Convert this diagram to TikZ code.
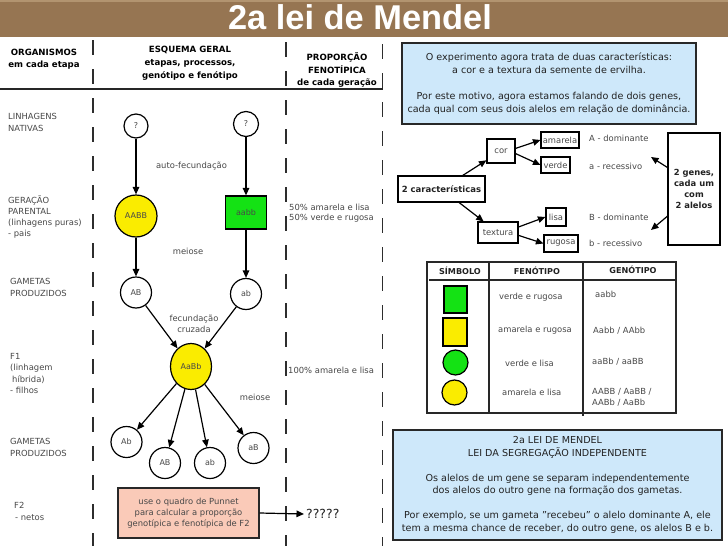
\documentclass[tikz,border=0pt]{standalone}
\usepackage{fontspec}
\setmainfont{DejaVu Sans}
\newfontfamily\titlefont{Liberation Sans}
\usetikzlibrary{arrows.meta,shapes.geometric,calc}
\definecolor{barbrown}{RGB}{150,117,82}
\definecolor{barlight}{RGB}{178,148,112}
\definecolor{txtgray}{RGB}{72,72,72}
\definecolor{txtdark}{RGB}{34,34,34}
\definecolor{linegray}{RGB}{45,45,45}
\definecolor{borderdark}{RGB}{40,40,40}
\definecolor{yel}{RGB}{250,236,0}
\definecolor{grn}{RGB}{20,226,20}
\definecolor{pinkfill}{RGB}{250,202,184}
\definecolor{boxblue}{RGB}{206,232,250}
\begin{document}
\begin{tikzpicture}[x=1pt,y=-1pt,
  txt/.style={font=\fontsize{8.4}{11.3}\selectfont, text=txtgray, inner sep=0pt},
  lbl/.style={txt, align=left, anchor=west},
  hdr/.style={font=\bfseries\fontsize{8.6}{12.8}\selectfont, align=center, inner sep=0pt, text=black},
  circ/.style={circle, draw=black, line width=1.2pt, fill=white, minimum size=31pt, inner sep=0pt, font=\fontsize{8}{9}\selectfont, text=txtgray},
  arr/.style={-{Triangle[length=7.5pt,width=6.5pt]}, line width=1.2pt, draw=black},
  dashline/.style={line width=1.8pt, draw=linegray, dash pattern=on 15pt off 14pt},
  sbox/.style={rectangle, draw=black, line width=1.1pt, fill=white, inner sep=1pt, font=\fontsize{8.4}{10.8}\selectfont, text=txtgray},
  bluebox/.style={rectangle, draw=borderdark, line width=1.3pt, fill=boxblue, align=center, inner sep=0pt, text=txtdark},
  tbl/.style={line width=1.4pt, draw=borderdark},
  thdr/.style={font=\bfseries\fontsize{8.1}{10}\selectfont, text=txtdark, inner sep=0pt}
]
\useasboundingbox (0,0) rectangle (728,546);
\fill[white] (0,0) rectangle (728,546);
% title bar
\fill[barbrown] (0,0) rectangle (728,37);
\fill[barlight] (0,0) rectangle (728,2);
\node[font=\titlefont\bfseries\fontsize{34.4}{36}\selectfont, text=white, inner sep=0pt] (title) at (360,17.5) {2a lei de Mendel};

% column headers
\node[hdr, font=\bfseries\fontsize{8.6}{12.5}\selectfont] (h1) at (44,59) {ORGANISMOS\\em cada etapa};
\node[hdr] (h2) at (190,63.5) {ESQUEMA GERAL\\etapas, processos,\\genótipo e fenótipo};
\node[hdr] (h3) at (337,70) {PROPORÇÃO\\FENOTÍPICA\\de cada geração};
\draw[line width=2pt, black!85] (0,89) -- (383,89);
\draw[dashline] (93,40) -- (93,546);
\draw[dashline] (286,42) -- (286,546);
\draw[dashline] (382.5,44) -- (382.5,546);

% left labels
\node[lbl] (lnat) at (8,122.5) {LINHAGENS\\NATIVAS};
\node[lbl] (lpar) at (8,217) {GERAÇÃO\\PARENTAL\\(linhagens puras)\\- pais};
\node[lbl] (lgam1) at (10,287.5) {GAMETAS\\PRODUZIDOS};
\node[lbl] (lf1) at (10,373.5) {F1\\(linhagem\\\hspace{2pt}híbrida)\\- filhos};
\node[lbl] (lgam2) at (10,447.5) {GAMETAS\\PRODUZIDOS};
\node[lbl] (lf2) at (14,511.5) {F2\\\hspace{1pt}- netos};

% scheme
\node[circ, minimum size=24pt] (q1) at (136,126) {?};
\node[circ, minimum size=25pt] (q2) at (246,124) {?};
\node[circ, minimum size=42pt, fill=yel] (pY) at (136,216) {AABB};
\node[rectangle, draw=black, line width=1.2pt, fill=grn, minimum width=41pt, minimum height=33pt, inner sep=0pt, font=\fontsize{8}{9}\selectfont, text=txtgray] (pG) at (246,212.5) {aabb};
\node[circ] (gAB) at (136,292.5) {AB};
\node[circ] (gab) at (246,294) {ab};
\node[ellipse, draw=black, line width=1.2pt, fill=yel, minimum width=41pt, minimum height=46pt, inner sep=0pt, font=\fontsize{8}{9}\selectfont, text=txtgray] (f1) at (191,366.5) {AaBb};
\node[circ] (g1) at (126.5,442) {Ab};
\node[circ] (g2) at (165,463) {AB};
\node[circ] (g3) at (210,463) {ab};
\node[circ] (g4) at (253.5,448) {aB};

\draw[arr] (q1) -- (pY);
\draw[arr] (q2) -- (pG);
\draw[arr] (pY) -- (gAB);
\draw[arr] (pG) -- (gab);
\draw[arr] (gAB) -- (f1);
\draw[arr] (gab) -- (f1);
\draw[arr] (f1) -- (g1);
\draw[arr] (f1) -- (g2);
\draw[arr] (f1) -- (g3);
\draw[arr] (f1) -- (g4);

\node[txt] (autof) at (191.5,166) {auto-fecundação};
\node[txt] (mei1) at (188,251) {meiose};
\node[txt, align=center] (fec) at (194,323.5) {fecundação\\cruzada};
\node[txt] (mei2) at (255,397) {meiose};
\node[txt, align=left, anchor=west, font=\fontsize{8.4}{10.6}\selectfont] (p50) at (289,213) {50\% amarela e lisa\\50\% verde e rugosa};
\node[txt, anchor=west] (p100) at (288,370) {100\% amarela e lisa};

\node[rectangle, draw=borderdark, line width=1.2pt, fill=pinkfill, minimum width=141pt, minimum height=50pt, align=center, inner sep=0pt, font=\fontsize{8.4}{11}\selectfont, text=txtgray] (punnet) at (188.5,513) {use o quadro de Punnet\\para calcular a proporção\\genotípica e fenotípica de F2};
\node[font=\fontsize{12.5}{14}\selectfont, text=txtdark, anchor=west, inner xsep=2pt, inner ysep=0pt] (qq) at (304,514) {?????};
\draw[arr] (punnet.east) -- (qq.west);

% right: info box
\node[bluebox, font=\fontsize{9.6}{12.9}\selectfont, minimum width=294pt, minimum height=81pt] (info) at (549,83.5) {O experimento agora trata de duas características:\\a cor e a textura da semente de ervilha.\\[12.9pt]Por este motivo, agora estamos falando de dois genes,\\cada qual com seus dois alelos em relação de dominância.};

% right: characteristics diagram
\node[sbox, font=\bfseries\fontsize{8.5}{10}\selectfont, text=txtdark, minimum width=87pt, minimum height=26pt] (car) at (441.5,189) {2 características};
\node[sbox, minimum width=28pt, minimum height=24pt] (cor) at (501,151) {cor};
\node[sbox, minimum width=40pt, minimum height=21pt] (tex) at (498,232.5) {textura};
\node[sbox, minimum width=38pt, minimum height=16pt] (ama) at (560,140) {amarela};
\node[sbox, minimum width=29pt, minimum height=16pt] (ver) at (555.5,165) {verde};
\node[sbox, minimum width=20pt, minimum height=18pt] (lis) at (556,217) {lisa};
\node[sbox, minimum width=34pt, minimum height=17pt] (rug) at (561,243.5) {rugosa};
\node[txt, anchor=west] (adom) at (589,138) {A - dominante};
\node[txt, anchor=west] (arec) at (589,166) {a - recessivo};
\node[txt, anchor=west] (bdom) at (589,217) {B - dominante};
\node[txt, anchor=west] (brec) at (589,243) {b - recessivo};
\node[sbox, font=\bfseries\fontsize{8.4}{10.8}\selectfont, text=txtdark, align=center, minimum width=52pt, minimum height=112pt] (genes) at (694,189) {2 genes,\\cada um\\com\\2 alelos};
\coordinate (ga) at (651,157);
\coordinate (gb) at (651,230);

\draw[arr] (car) -- (cor);
\draw[arr] (car) -- (tex);
\draw[arr] (cor.10) -- (ama.west);
\draw[arr] (cor.-10) -- (ver.west);
\draw[arr] (tex.15) -- (lis.west);
\draw[arr] (tex.-8) -- (rug.west);
\draw[arr] ($(genes.north west)!0.31!(genes.south west)$) -- (ga);
\draw[arr] ($(genes.north west)!0.74!(genes.south west)$) -- (gb);

% table
\draw[tbl] (427,262) rectangle (676,413);
\draw[tbl] (489,262) -- (489,413);
\draw[tbl] (583,262) -- (583,416);
\draw[tbl] (429,280) -- (676,280);
\node[thdr] (ts) at (460,271) {SÍMBOLO};
\node[thdr] (tf) at (537,271) {FENÓTIPO};
\node[thdr] (tg) at (633,270) {GENÓTIPO};
\node[rectangle, draw=black, line width=1.2pt, fill=grn, minimum width=23pt, minimum height=27pt, inner sep=0pt] (s1) at (455.5,299.5) {};
\node[rectangle, draw=black, line width=1.2pt, fill=yel, minimum width=24pt, minimum height=28pt, inner sep=0pt] (s2) at (455,332) {};
\node[circle, draw=black, line width=1.2pt, fill=grn, minimum size=25pt, inner sep=0pt] (s3) at (455.5,362.5) {};
\node[circle, draw=black, line width=1.2pt, fill=yel, minimum size=25pt, inner sep=0pt] (s4) at (454.5,392.5) {};
\node[txt, anchor=west] (f1t) at (499,297) {verde e rugosa};
\node[txt, anchor=west] (f2t) at (498,330) {amarela e rugosa};
\node[txt, anchor=west] (f3t) at (505,363) {verde e lisa};
\node[txt, anchor=west] (f4t) at (502,392) {amarela e lisa};
\node[txt, anchor=west] (g1t) at (595,294) {aabb};
\node[txt, anchor=west] (g2t) at (593,331) {Aabb / AAbb};
\node[txt, anchor=west] (g3t) at (592,362) {aaBb / aaBB};
\node[txt, anchor=west, align=left, font=\fontsize{8.4}{11}\selectfont] (g4t) at (592,397.5) {AABB / AaBB /\\AABb / AaBb};

% bottom law box
\node[bluebox, font=\fontsize{9.6}{12.5}\selectfont, minimum width=329pt, minimum height=110pt] (law) at (557.5,485) {2a LEI DE MENDEL\\LEI DA SEGREGAÇÃO INDEPENDENTE\\[12.5pt]Os alelos de um gene se separam independentemente\\dos alelos do outro gene na formação dos gametas.\\[12.5pt]Por exemplo, se um gameta \symbol{34}recebeu\symbol{34} o alelo dominante A, ele\\tem a mesma chance de receber, do outro gene, os alelos B e b.};
\end{tikzpicture}
\end{document}
